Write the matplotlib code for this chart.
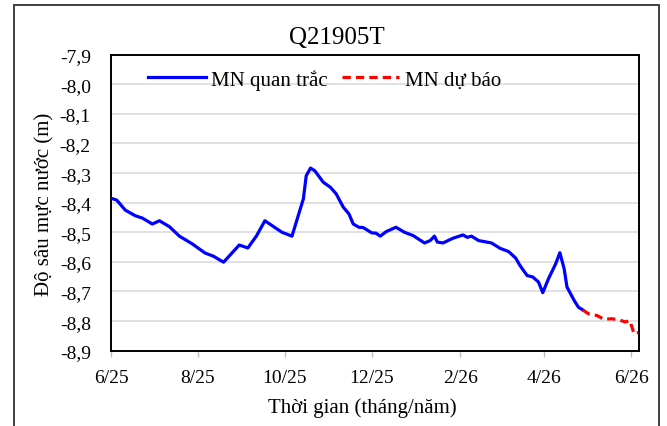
import matplotlib
matplotlib.use("Agg")
import matplotlib.pyplot as plt
import matplotlib.dates as mdates
from matplotlib.patches import Rectangle
from matplotlib.ticker import FixedLocator, FuncFormatter
import pandas as pd

plt.rcParams['font.family'] = ['Liberation Serif', 'DejaVu Serif']

# Observed groundwater depth (m)
obs_dates = [
    "2025-06-01", "2025-06-05", "2025-06-11", "2025-06-18", "2025-06-23", "2025-06-30",
    "2025-07-05", "2025-07-12", "2025-07-19", "2025-07-28", "2025-08-06", "2025-08-12",
    "2025-08-19", "2025-08-30", "2025-09-05", "2025-09-11", "2025-09-17", "2025-09-29",
    "2025-10-06", "2025-10-14", "2025-10-16", "2025-10-19", "2025-10-22", "2025-10-28",
    "2025-11-02", "2025-11-06", "2025-11-11", "2025-11-15", "2025-11-18", "2025-11-22",
    "2025-11-25", "2025-12-01", "2025-12-04", "2025-12-07", "2025-12-11", "2025-12-18",
    "2025-12-24", "2025-12-30", "2026-01-07", "2026-01-11", "2026-01-14", "2026-01-16",
    "2026-01-20", "2026-01-27", "2026-02-03", "2026-02-06", "2026-02-09", "2026-02-14",
    "2026-02-23", "2026-03-01", "2026-03-07", "2026-03-12", "2026-03-15", "2026-03-20",
    "2026-03-24", "2026-03-28", "2026-03-31", "2026-04-04", "2026-04-09", "2026-04-12",
    "2026-04-15", "2026-04-17", "2026-04-22", "2026-04-25", "2026-04-28",
]
obs_depth = [
    -8.385, -8.391, -8.425, -8.444, -8.452, -8.472,
    -8.461, -8.481, -8.513, -8.539, -8.570, -8.581,
    -8.601, -8.543, -8.553, -8.513, -8.461, -8.500,
    -8.513, -8.387, -8.309, -8.283, -8.292, -8.331,
    -8.348, -8.370, -8.415, -8.438, -8.472, -8.483,
    -8.484, -8.502, -8.503, -8.513, -8.498, -8.483,
    -8.500, -8.511, -8.536, -8.528, -8.513, -8.533,
    -8.536, -8.520, -8.509, -8.517, -8.513, -8.528,
    -8.536, -8.554, -8.565, -8.587, -8.612, -8.646,
    -8.651, -8.668, -8.704, -8.657, -8.607, -8.569,
    -8.623, -8.685, -8.730, -8.753, -8.762,
]

# Forecast groundwater depth (m)
fc_dates = [
    "2026-04-28", "2026-05-02", "2026-05-08", "2026-05-13", "2026-05-18", "2026-05-23",
    "2026-05-28", "2026-05-31", "2026-06-02", "2026-06-03", "2026-06-06",
]
fc_depth = [
    -8.762, -8.775, -8.781, -8.794, -8.792, -8.795,
    -8.803, -8.798, -8.826, -8.843, -8.839,
]

x_ticks = ["2025-06-01", "2025-08-01", "2025-10-01", "2025-12-01",
           "2026-02-01", "2026-04-01", "2026-06-01"]
y_ticks = [-7.9, -8.0, -8.1, -8.2, -8.3, -8.4, -8.5, -8.6, -8.7, -8.8, -8.9]

title = "Q21905T"
x_label = "Thời gian (tháng/năm)"
y_label = "Độ sâu mực nước (m)"
obs_label = "MN quan trắc"
fc_label = "MN dự báo"

W, H = 667, 427
fig = plt.figure(figsize=(W / 100, H / 100), dpi=100)

# outer chart border
fig.patches.append(Rectangle((14 / W, -0.05), (659 - 14) / W, (421 / H) + 0.05,
                             transform=fig.transFigure, fill=False,
                             edgecolor="#404040", linewidth=1.4))

ax = fig.add_axes([111 / W, (H - 351.7) / H, (639.3 - 111) / W, (351.7 - 55.7) / H])

ax.plot(pd.to_datetime(obs_dates), obs_depth, color="#0000FF", lw=2.3,
        label=obs_label, solid_joinstyle="round", zorder=3)
ax.plot(pd.to_datetime(fc_dates), fc_depth, color="#FF0000", lw=2.3,
        dashes=(2.6, 1.6), label=fc_label, zorder=3)

ax.set_xlim(pd.Timestamp("2025-06-01"), pd.Timestamp("2026-06-06 18:00"))
ax.set_ylim(-8.9, -7.9)

ax.yaxis.set_major_locator(FixedLocator(y_ticks))
ax.yaxis.set_major_formatter(FuncFormatter(lambda v, p: f"{v:.1f}".replace(".", ",")))
ax.xaxis.set_major_locator(FixedLocator(mdates.date2num(pd.to_datetime(x_ticks))))
ax.xaxis.set_major_formatter(FuncFormatter(
    lambda v, p: f"{mdates.num2date(v).month}/{mdates.num2date(v).strftime('%y')}"))

ax.grid(axis="y", color="#d9d9d9", lw=1.1, zorder=0)
ax.set_axisbelow(True)
for s in ax.spines.values():
    s.set_color("black")
    s.set_linewidth(1.4)

ax.tick_params(axis="y", length=0, pad=14.5, labelsize=14)
ax.tick_params(axis="x", length=4.5, width=1, color="#bfbfbf", pad=9, labelsize=14)

leg = ax.legend(loc="upper left", bbox_to_anchor=(26 / 528.3, 1.0 - 3 / 296), ncol=2,
                frameon=False, fontsize=15, handlelength=2.75, handletextpad=0.25,
                columnspacing=0.7, borderaxespad=0.0, borderpad=0.55)

fig.text(337 / W, 1 - 38 / H, title, ha="center", va="center", fontsize=18)
fig.text(362 / W, 1 - 408 / H, x_label, ha="center", va="center", fontsize=15)
fig.text(45 / W, 1 - 204 / H, y_label, ha="center", va="center", fontsize=15,
         rotation=90)

fig.savefig("out.png", dpi=100)
